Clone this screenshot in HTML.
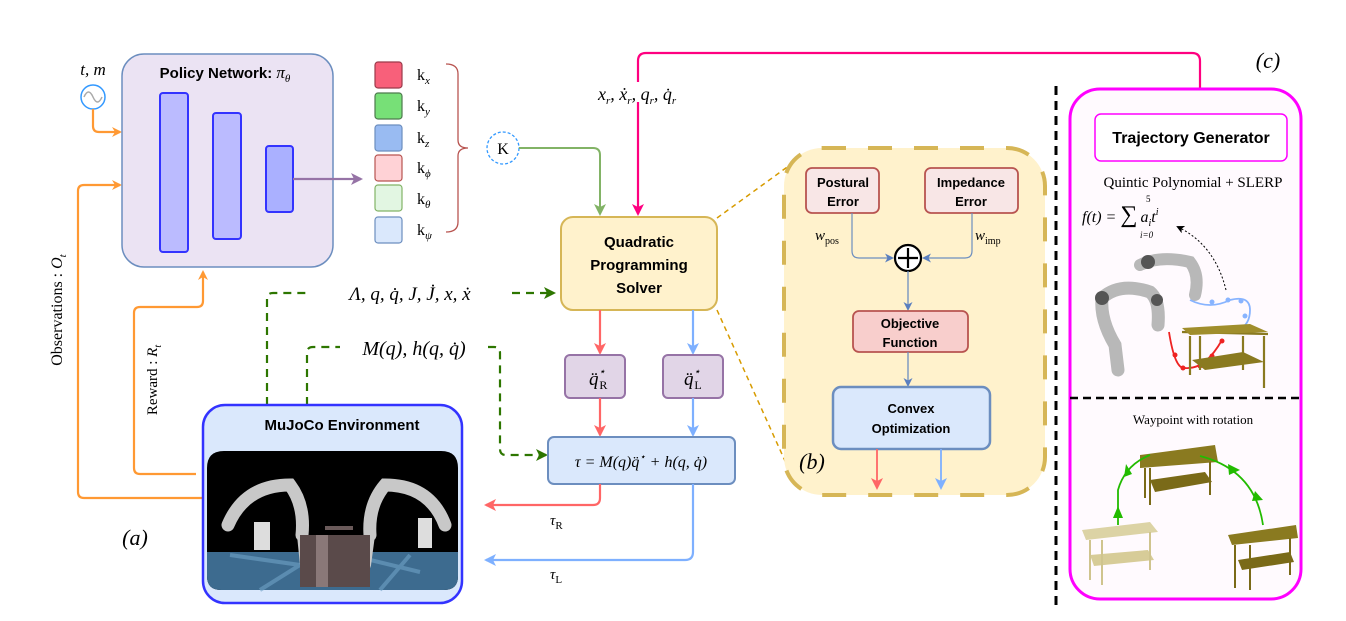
<!DOCTYPE html>
<html><head><meta charset="utf-8"><style>
html,body{margin:0;padding:0;background:#fff;}
svg{display:block;}
.b{font-family:"Liberation Sans",sans-serif;font-weight:bold;}
.m{font-family:"Liberation Serif",serif;font-style:italic;}
.r{font-family:"Liberation Serif",serif;}
</style></head><body>
<svg width="1346" height="621" viewBox="0 0 1346 621" xmlns="http://www.w3.org/2000/svg">
<defs>
<marker id="ao" markerWidth="10" markerHeight="10" refX="8" refY="5" orient="auto" markerUnits="userSpaceOnUse"><path d="M0,0 L10,5 L0,10 L3,5z" fill="#ff9933"/></marker>
<marker id="ap" markerWidth="12" markerHeight="12" refX="10" refY="6" orient="auto" markerUnits="userSpaceOnUse"><path d="M0,0 L12,6 L0,12 L3,6z" fill="#9673a6"/></marker>
<marker id="ag" markerWidth="12" markerHeight="12" refX="10" refY="6" orient="auto" markerUnits="userSpaceOnUse"><path d="M0,0 L12,6 L0,12 L3,6z" fill="#82b366"/></marker>
<marker id="adg" markerWidth="12" markerHeight="12" refX="10" refY="6" orient="auto" markerUnits="userSpaceOnUse"><path d="M0,0 L12,6 L0,12 L3,6z" fill="#2d7600"/></marker>
<marker id="apk" markerWidth="12" markerHeight="12" refX="10" refY="6" orient="auto" markerUnits="userSpaceOnUse"><path d="M0,0 L12,6 L0,12 L3,6z" fill="#ff0080"/></marker>
<marker id="ar" markerWidth="12" markerHeight="12" refX="10" refY="6" orient="auto" markerUnits="userSpaceOnUse"><path d="M0,0 L12,6 L0,12 L3,6z" fill="#ff6666"/></marker>
<marker id="abl" markerWidth="12" markerHeight="12" refX="10" refY="6" orient="auto" markerUnits="userSpaceOnUse"><path d="M0,0 L12,6 L0,12 L3,6z" fill="#7eb0ff"/></marker>
<marker id="adb" markerWidth="9" markerHeight="9" refX="7" refY="4.5" orient="auto" markerUnits="userSpaceOnUse"><path d="M0,0 L9,4.5 L0,9 L2.5,4.5z" fill="#5a7fbf"/></marker>
<marker id="ak" markerWidth="8" markerHeight="8" refX="6" refY="4" orient="auto" markerUnits="userSpaceOnUse"><path d="M0,0 L8,4 L0,8 L2,4z" fill="#000"/></marker>
</defs>

<text x="93" y="75" class="m" font-size="17" text-anchor="middle">t, m</text>
<circle cx="93" cy="97" r="12" fill="#fff" stroke="#3399ff" stroke-width="1.5"/>
<path d="M84,97 q4.5,-10 9,0 t9,0" fill="none" stroke="#aaa" stroke-width="1.5"/>
<path d="M93,109 V126 q0,6 6,6 H120" fill="none" stroke="#ff9933" stroke-width="2.2" marker-end="url(#ao)"/>
<path d="M203,498 H84 q-6,0 -6,-6 V191 q0,-6 6,-6 H120" fill="none" stroke="#ff9933" stroke-width="2.2" marker-end="url(#ao)"/>
<path d="M196,474 H140 q-6,0 -6,-6 V313 q0,-6 6,-6 H197 q6,0 6,-6 V272" fill="none" stroke="#ff9933" stroke-width="2.2" marker-end="url(#ao)"/>
<text transform="translate(62,310) rotate(-90)" class="r" font-size="16" text-anchor="middle">Observations : <tspan class="m">O<tspan font-size="11" dy="4">t</tspan></tspan></text>
<text transform="translate(157,380) rotate(-90)" class="r" font-size="15" text-anchor="middle">Reward : <tspan class="m">R<tspan font-size="10" dy="4">t</tspan></tspan></text>
<text x="135" y="545" class="m" font-size="22" text-anchor="middle">(a)</text>

<rect x="122" y="54" width="211" height="213" rx="22" fill="#ebe3f3" stroke="#6c8ebf" stroke-width="1.5"/>
<text x="225" y="78" class="b" font-size="15" text-anchor="middle">Policy Network: <tspan class="m" font-weight="normal" font-size="17">π<tspan font-size="11" dy="4">θ</tspan></tspan></text>
<rect x="160" y="93" width="28" height="159" rx="3" fill="#bbbbff" stroke="#3333ff" stroke-width="2"/>
<rect x="213" y="113" width="28" height="126" rx="3" fill="#bbbbff" stroke="#3333ff" stroke-width="2"/>
<rect x="266" y="146" width="27" height="66" rx="3" fill="#aab0ff" stroke="#3333ff" stroke-width="2"/>
<path d="M293,179 H361" stroke="#9673a6" stroke-width="2.2" marker-end="url(#ap)"/>

<g stroke-width="1.2">
<rect x="375" y="62" width="27" height="26" rx="3" fill="#f8607a" stroke="#9b3b4b"/>
<rect x="375" y="93" width="27" height="26" rx="3" fill="#77e077" stroke="#4e7a4e"/>
<rect x="375" y="125" width="27" height="26" rx="3" fill="#99bbf2" stroke="#6c8ebf"/>
<rect x="375" y="155" width="27" height="26" rx="3" fill="#ffd2d6" stroke="#b85450"/>
<rect x="375" y="185" width="27" height="26" rx="3" fill="#e2f6e2" stroke="#82b366"/>
<rect x="375" y="217" width="27" height="26" rx="3" fill="#dae8fc" stroke="#6c8ebf"/>
</g>
<g class="r" font-size="16">
<text x="417" y="80">k<tspan class="m" font-size="11" dy="4">x</tspan></text>
<text x="417" y="111">k<tspan class="m" font-size="11" dy="4">y</tspan></text>
<text x="417" y="143">k<tspan class="m" font-size="11" dy="4">z</tspan></text>
<text x="417" y="173">k<tspan class="m" font-size="11" dy="4">ϕ</tspan></text>
<text x="417" y="204">k<tspan class="m" font-size="11" dy="4">θ</tspan></text>
<text x="417" y="235">k<tspan class="m" font-size="11" dy="4">ψ</tspan></text>
</g>
<path d="M446,64 q12,0 12,10 V140 q0,8 10,8 q-10,0 -10,8 V222 q0,10 -12,10" fill="none" stroke="#b85450" stroke-width="1.3"/>
<circle cx="503" cy="148" r="16" fill="#fff" stroke="#3399ff" stroke-width="1.3" stroke-dasharray="3,2"/>
<text x="503" y="154" class="r" font-size="16" text-anchor="middle">K</text>
<path d="M519,148 H593 q7,0 7,7 V214" fill="none" stroke="#82b366" stroke-width="2" marker-end="url(#ag)"/>

<path d="M1200,88 V61 q0,-8 -8,-8 H646 q-8,0 -8,8 V82 M638,102 V214" fill="none" stroke="#ff0080" stroke-width="2.2" marker-end="url(#apk)"/>
<text x="598" y="100" class="m" font-size="18">x<tspan font-size="11" dy="4">r</tspan><tspan dy="-4">, ẋ</tspan><tspan font-size="11" dy="4">r</tspan><tspan dy="-4">, q</tspan><tspan font-size="11" dy="4">r</tspan><tspan dy="-4">, q̇</tspan><tspan font-size="11" dy="4">r</tspan></text>

<rect x="561" y="217" width="156" height="93" rx="12" fill="#fff2cc" stroke="#d6b656" stroke-width="2"/>
<text class="b" font-size="15" text-anchor="middle"><tspan x="639" y="247">Quadratic</tspan><tspan x="639" y="270">Programming</tspan><tspan x="639" y="293">Solver</tspan></text>
<path d="M717,218 L790,165" stroke="#d79b00" stroke-width="1.5" stroke-dasharray="5,4"/>
<path d="M717,310 L790,472" stroke="#d79b00" stroke-width="1.5" stroke-dasharray="5,4"/>

<path d="M267,405 V299 q0,-6 6,-6 H310 M512,293 H554" fill="none" stroke="#2d7600" stroke-width="2.2" stroke-dasharray="8,6" marker-end="url(#adg)"/>
<text x="410" y="300" class="m" font-size="19" text-anchor="middle">Λ, q, q̇, J, J̇, x, ẋ</text>
<path d="M307,405 V353 q0,-6 6,-6 H340 M488,347 H494 q6,0 6,6 V449 q0,6 6,6 H546" fill="none" stroke="#2d7600" stroke-width="2.2" stroke-dasharray="8,6" marker-end="url(#adg)"/>
<text x="414" y="355" class="m" font-size="20" text-anchor="middle">M(q), h(q, q̇)</text>

<path d="M600,310 V353" stroke="#ff6666" stroke-width="2.2" marker-end="url(#ar)"/>
<path d="M693,310 V353" stroke="#7eb0ff" stroke-width="2.2" marker-end="url(#abl)"/>
<rect x="565" y="355" width="60" height="43" rx="5" fill="#e1d5e7" stroke="#9673a6" stroke-width="2"/>
<rect x="663" y="355" width="60" height="43" rx="5" fill="#e1d5e7" stroke="#9673a6" stroke-width="2"/>
<text x="589" y="385" class="m" font-size="19">q̈<tspan font-size="11" dy="-10">⋆</tspan><tspan class="r" font-style="normal" font-size="12" dx="-6" dy="14">R</tspan></text>
<text x="684" y="385" class="m" font-size="19">q̈<tspan font-size="11" dy="-10">⋆</tspan><tspan class="r" font-style="normal" font-size="12" dx="-6" dy="14">L</tspan></text>
<path d="M600,398 V435" stroke="#ff6666" stroke-width="2.2" marker-end="url(#ar)"/>
<path d="M693,398 V435" stroke="#7eb0ff" stroke-width="2.2" marker-end="url(#abl)"/>
<rect x="548" y="437" width="187" height="47" rx="6" fill="#dae8fc" stroke="#6c8ebf" stroke-width="2"/>
<text x="641" y="467" class="m" font-size="16" text-anchor="middle">τ = M(q)q̈<tspan font-size="10" dy="-7">⋆</tspan><tspan dy="7"> + h(q, q̇)</tspan></text>
<path d="M600,484 V498 q0,7 -7,7 H486" fill="none" stroke="#ff6666" stroke-width="2.2" marker-end="url(#ar)"/>
<path d="M693,484 V552 q0,8 -8,8 H486" fill="none" stroke="#7eb0ff" stroke-width="2.2" marker-end="url(#abl)"/>
<text x="550" y="525" class="m" font-size="15">τ<tspan class="r" font-style="normal" font-size="11" dy="4">R</tspan></text>
<text x="550" y="579" class="m" font-size="15">τ<tspan class="r" font-style="normal" font-size="11" dy="4">L</tspan></text>

<rect x="203" y="405" width="259" height="198" rx="22" fill="#dae8fc" stroke="#3333ff" stroke-width="2.5"/>
<text x="342" y="430" class="b" font-size="15" text-anchor="middle">MuJoCo Environment</text>
<path d="M207,468 q0,-17 17,-17 H441 q17,0 17,17 V576 q0,14 -14,14 H221 q-14,0 -14,-14z" fill="#000"/>
<path d="M207,552 L458,552 V576 q0,14 -14,14 H221 q-14,0 -14,-14z" fill="#3d6b8f"/>
<path d="M230,555 L300,565 L260,590 M350,555 L420,572 M410,555 L380,590" stroke="#6fa1c6" stroke-width="4" fill="none" opacity="0.6"/>
<g fill="none" stroke="#c8c8c8" stroke-linecap="round">
<path d="M228,525 Q245,485 290,485 Q305,505 302,535" stroke-width="13"/>
<path d="M445,525 Q430,485 385,485 Q368,505 370,535" stroke-width="13"/>
<path d="M302,535 L305,565 M370,535 L366,565" stroke-width="10"/>
</g>
<rect x="254" y="522" width="16" height="28" fill="#ddd"/>
<rect x="418" y="518" width="14" height="30" fill="#ddd"/>
<rect x="300" y="535" width="70" height="52" fill="#5a4a4a"/>
<rect x="316" y="535" width="12" height="52" fill="#8a7878"/>
<rect x="325" y="526" width="28" height="4" fill="#6a5a5a"/>

<rect x="784" y="148" width="261" height="347" rx="38" fill="#fff2cc" stroke="#d6b656" stroke-width="4" stroke-dasharray="24,22"/>
<rect x="806" y="168" width="73" height="45" rx="6" fill="#f8e6e6" stroke="#b85450" stroke-width="1.8"/>
<text class="b" font-size="13" text-anchor="middle"><tspan x="843" y="187">Postural</tspan><tspan x="843" y="206">Error</tspan></text>
<rect x="925" y="168" width="93" height="45" rx="6" fill="#f8e6e6" stroke="#b85450" stroke-width="1.8"/>
<text class="b" font-size="13" text-anchor="middle"><tspan x="971" y="187">Impedance</tspan><tspan x="971" y="206">Error</tspan></text>
<path d="M852,213 V251 q0,7 7,7 H892" fill="none" stroke="#6c8ebf" stroke-width="1.2" marker-end="url(#adb)"/>
<path d="M972,213 V251 q0,7 -7,7 H924" fill="none" stroke="#6c8ebf" stroke-width="1.2" marker-end="url(#adb)"/>
<text x="815" y="240" class="m" font-size="15">w<tspan class="r" font-style="normal" font-size="10" dy="4">pos</tspan></text>
<text x="975" y="240" class="m" font-size="15">w<tspan class="r" font-style="normal" font-size="10" dy="4">imp</tspan></text>
<circle cx="908" cy="258" r="13" fill="#fff" stroke="#000" stroke-width="2.2"/>
<path d="M908,248 V268 M898,258 H918" stroke="#000" stroke-width="2.2"/>
<path d="M908,271 V309" stroke="#6c8ebf" stroke-width="1.3" marker-end="url(#adb)"/>
<rect x="853" y="311" width="115" height="41" rx="6" fill="#f8cecc" stroke="#b85450" stroke-width="1.8"/>
<text class="b" font-size="13" text-anchor="middle"><tspan x="910" y="328">Objective</tspan><tspan x="910" y="347">Function</tspan></text>
<path d="M908,352 V385" stroke="#6c8ebf" stroke-width="1.3" marker-end="url(#adb)"/>
<rect x="833" y="387" width="157" height="62" rx="8" fill="#dae8fc" stroke="#6c8ebf" stroke-width="2.5"/>
<text class="b" font-size="13" text-anchor="middle"><tspan x="911" y="413">Convex</tspan><tspan x="911" y="433">Optimization</tspan></text>
<path d="M877,449 V488" stroke="#ff6666" stroke-width="1.8" marker-end="url(#ar)"/>
<path d="M941,449 V488" stroke="#7eb0ff" stroke-width="1.8" marker-end="url(#abl)"/>
<text x="812" y="469" class="m" font-size="22" text-anchor="middle">(b)</text>

<path d="M1056,86 V606" stroke="#000" stroke-width="3" stroke-dasharray="9,6"/>
<text x="1268" y="68" class="m" font-size="22" text-anchor="middle">(c)</text>

<rect x="1070" y="89" width="231" height="510" rx="30" fill="#fffafe" stroke="#ff00ff" stroke-width="3"/>
<rect x="1095" y="114" width="192" height="47" rx="6" fill="#fff" stroke="#ff00ff" stroke-width="1.5"/>
<text x="1191" y="143" class="b" font-size="16" text-anchor="middle">Trajectory Generator</text>
<text x="1193" y="187" class="r" font-size="15" text-anchor="middle">Quintic Polynomial + SLERP</text>
<text x="1082" y="222" class="m" font-size="16">f(t) = <tspan font-style="normal" font-size="24">∑</tspan><tspan dx="3">a</tspan><tspan font-size="10" dy="4">i</tspan><tspan dy="-4">t</tspan><tspan font-size="10" dy="-7">i</tspan></text>
<text x="1146" y="202" class="r" font-size="9">5</text>
<text x="1140" y="238" class="m" font-size="9">i=0</text>
<path d="M1226,290 Q1215,245 1178,227" fill="none" stroke="#000" stroke-width="1" stroke-dasharray="2,2" marker-end="url(#ak)"/>
<g fill="none" stroke="#b8b8b8" stroke-linecap="round">
<path d="M1102,298 Q1120,282 1150,292 Q1160,300 1158,325" stroke-width="13"/>
<path d="M1102,298 Q1100,320 1115,345 L1118,370" stroke-width="13"/>
<path d="M1140,265 Q1160,255 1190,262 Q1200,275 1195,295" stroke-width="12"/>
</g>
<circle cx="1102" cy="298" r="7" fill="#555"/><circle cx="1148" cy="262" r="7" fill="#555"/><circle cx="1157" cy="300" r="6" fill="#555"/>
<path d="M1190,300 Q1210,310 1230,300 Q1250,295 1250,310 Q1250,325 1238,330" fill="none" stroke="#88b4ff" stroke-width="1.8"/>
<g fill="#88b4ff"><circle cx="1212" cy="302" r="2.5"/><circle cx="1228" cy="300" r="2.5"/><circle cx="1241" cy="301" r="2.5"/><circle cx="1245" cy="316" r="2.5"/><circle cx="1238" cy="328" r="2.5"/></g>
<path d="M1169,332 Q1175,370 1185,368 Q1205,370 1222,340" fill="none" stroke="#ee2222" stroke-width="1.8"/>
<g fill="#ee2222"><circle cx="1175" cy="355" r="2.5"/><circle cx="1183" cy="368" r="2.5"/><circle cx="1200" cy="366" r="2.5"/><circle cx="1212" cy="356" r="2.5"/><circle cx="1222" cy="341" r="2.5"/></g>
<g stroke="#8a7a20" stroke-width="2.2">
<path d="M1182,332 L1268,334 M1190,336 V375 M1264,336 V388 M1243,336 V370 M1200,336 V370"/>
</g>
<path d="M1182,328 L1250,324 L1268,332 L1190,335z" fill="#a08e2c"/>
<path d="M1192,360 L1243,352 L1264,362 L1205,370z" fill="#8a7a20"/>
<path d="M1070,398 H1301" stroke="#000" stroke-width="2.5" stroke-dasharray="8,5"/>
<text x="1193" y="424" class="r" font-size="13" text-anchor="middle">Waypoint with rotation</text>
<path d="M1140,455 L1215,445 L1218,462 L1140,468z" fill="#8a7a20"/>
<path d="M1150,480 L1205,472 L1212,482 L1155,492z" fill="#7a6a18"/>
<path d="M1150,468 V505 M1210,462 V495 M1145,468 V498" stroke="#7a6a18" stroke-width="2"/>
<path d="M1082,530 L1150,522 L1158,532 L1086,540z" fill="#dcd3a5"/>
<path d="M1090,555 L1148,550 L1154,560 L1094,566z" fill="#d7cc98"/>
<path d="M1090,540 V580 M1150,532 V570 M1102,540 V585" stroke="#cfc48e" stroke-width="2"/>
<path d="M1228,535 L1296,525 L1298,538 L1232,545z" fill="#8a7a20"/>
<path d="M1238,560 L1290,552 L1294,562 L1242,570z" fill="#7a6a18"/>
<path d="M1235,545 V588 M1290,538 V575 M1250,545 V590" stroke="#7a6a18" stroke-width="2"/>
<path d="M1118,525 V490 Q1125,465 1150,455" fill="none" stroke="#22bb00" stroke-width="1.8"/>
<path d="M1200,456 Q1255,470 1263,525" fill="none" stroke="#22bb00" stroke-width="1.8"/>
<path d="M1113,518 L1118,506 L1123,518z M1124,477 L1126,464 L1132,474z M1228,464 L1240,470 L1229,475z M1255,491 L1263,500 L1252,501z" fill="#22bb00"/>
</svg>
</body></html>
